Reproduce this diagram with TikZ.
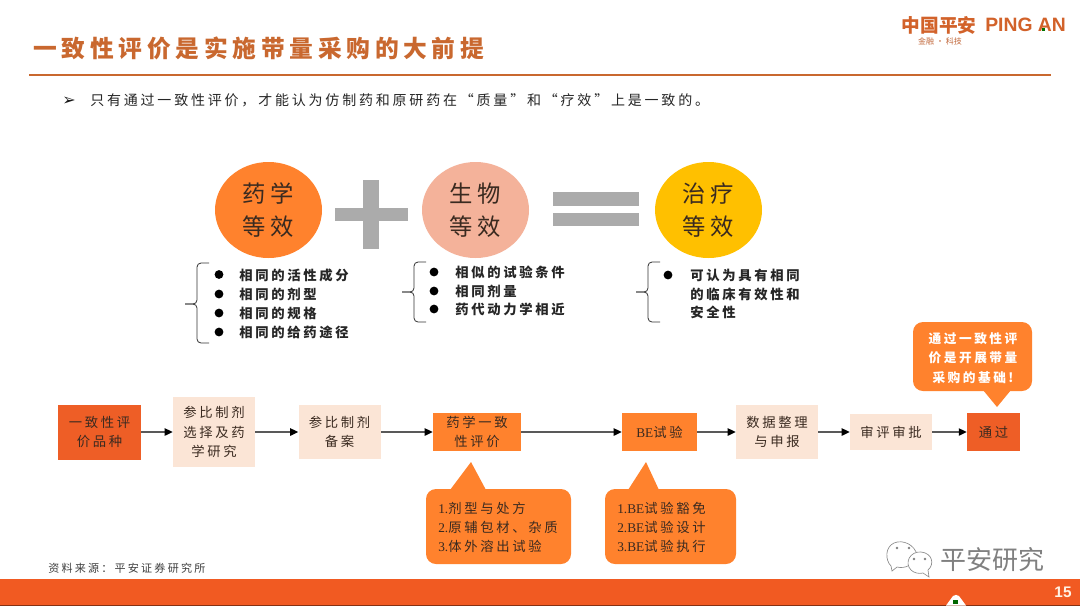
\documentclass[tikz,border=0pt]{standalone}
\usepackage{fontspec}
\usetikzlibrary{shapes.geometric,arrows.meta}
\setmainfont[LetterSpace=20]{Noto Sans CJK SC}
\newfontfamily\cjkplain{Noto Sans CJK SC}
\newfontfamily\serifl{Liberation Serif}
\newfontfamily\sansl{Liberation Sans}
\newfontfamily\symfont{DejaVu Sans}
\newcommand{\fsz}[2]{\fontsize{#1}{#2}\selectfont}
\newcommand{\lat}[1]{{\serifl #1}}
\definecolor{titleor}{HTML}{C9682F}
\definecolor{barred}{HTML}{F15A22}
\definecolor{boxred}{HTML}{EE5E26}
\definecolor{boxor}{HTML}{FF822D}
\definecolor{boxpale}{HTML}{FBE5D6}
\definecolor{circpink}{HTML}{F4B29A}
\definecolor{circgold}{HTML}{FFC000}
\definecolor{symgrey}{HTML}{ABABAB}
\definecolor{inkdark}{HTML}{3A2A20}
\definecolor{logoor}{HTML}{D2622A}
\tikzset{
  x=0.75pt,y=-0.75pt,
  bignode/.style={ellipse,inner sep=0pt,minimum width=80.25pt,minimum height=72pt,text=inkdark,align=center,font=\fsz{17.5}{24.8}},
  symbar/.style={fill=symgrey,draw=none},
  flowbox/.style={rectangle,inner sep=0pt,align=center,text=inkdark,font=\fsz{10}{14.4}},
  flowarrow/.style={draw=black!65,line width=1pt,-{Stealth[length=6pt,width=5.5pt,inset=0pt,color=black]}},
  bracepath/.style={draw=black!80,line width=0.6pt,rounded corners=3pt},
  bulletdot/.style={circle,fill=black,inner sep=0pt,minimum size=6.6pt},
  listtext/.style={anchor=west,inner sep=0pt,align=left,text=black!85,font=\fsz{10}{14.1}\bfseries},
  callfill/.style={fill=boxor,draw=none},
  calltext/.style={anchor=west,inner sep=0pt,align=left,text=inkdark,font=\fsz{10}{14.2}},
}
\begin{document}
\begin{tikzpicture}
\useasboundingbox (0,0) rectangle (1080,608);
\fill[white] (0,0) rectangle (1080,608);

% header
\node[anchor=west,inner sep=0pt,text=titleor,font=\fsz{17.8}{24}\bfseries] (title) at (33,48) {一致性评价是实施带量采购的大前提};
\draw[titleor,line width=2.2pt] (29,75) -- (1051,75);
\node[inner sep=0pt,text=logoor,font=\cjkplain\fsz{14}{16}\bfseries] (logocn) at (939,25) {中国平安};
\node[anchor=west,inner sep=0pt,text=logoor,font=\sansl\fsz{14.5}{16}\bfseries] (logoen) at (985,25) {PING AN};
\node[inner sep=0pt,text=logoor!80!gray,font=\cjkplain\fsz{6}{7}] (logosub) at (940,41.5) {金融 · 科技};
\fill[green!45!black] (1041.5,27.5) rectangle (1044.5,30.5);

\node[inner sep=0pt,text=black!90,font=\symfont\fsz{12}{14}] (arrowmark) at (69,101) {➢};
\node[anchor=west,inner sep=0pt,text=black!85,font=\fsz{10.5}{14}] (lead) at (90,100) {只有通过一致性评价，才能认为仿制药和原研药在“质量”和“疗效”上是一致的。};

% equation
\node[bignode,fill=boxor] (drug) at (268.5,210) {药学\\等效};
\node[bignode,fill=circpink] (bio) at (475.5,210) {生物\\等效};
\node[bignode,fill=circgold] (cure) at (708.5,210) {治疗\\等效};
\fill[symbar] (335,208) rectangle (408,221);
\fill[symbar] (363,180) rectangle (379,249);
\fill[symbar] (553,192) rectangle (639,206);
\fill[symbar] (553,213) rectangle (639,226);

% braces
\draw[bracepath] (209,263) -- (197,263) -- (197,304) -- (185,304);
\draw[bracepath] (185,304) -- (197,304) -- (197,343) -- (209,343);
\draw[bracepath] (426,262) -- (414,262) -- (414,292) -- (402,292);
\draw[bracepath] (402,292) -- (414,292) -- (414,322) -- (426,322);
\draw[bracepath] (660,262) -- (648,262) -- (648,292) -- (636,292);
\draw[bracepath] (636,292) -- (648,292) -- (648,322) -- (660,322);

% lists
\foreach \yy/\nm in {274.5/a,294/b,313/c,332/d}{\node[bulletdot] (dota\nm) at (219,\yy) {};}
\foreach \yy/\nm in {272/a,291/b,309/c}{\node[bulletdot] (dotb\nm) at (434,\yy) {};}
\node[bulletdot] (dotc) at (668,275) {};
\node[listtext] (list1) at (239,304) {相同的活性成分\\相同的剂型\\相同的规格\\相同的给药途径};
\node[listtext,font=\fsz{10}{13.9}\bfseries] (list2) at (455,291) {相似的试验条件\\相同剂量\\药代动力学相近};
\node[listtext] (list3) at (690,294) {可认为具有相同\\的临床有效性和\\安全性};

% process
\node[flowbox,fill=boxred,minimum width=62.25pt,minimum height=41.25pt] (p1) at (99.5,432) {一致性评\\价品种};
\node[flowbox,fill=boxpale,minimum width=61.5pt,minimum height=52.5pt] (p2) at (214,432) {参比制剂\\选择及药\\学研究};
\node[flowbox,fill=boxpale,minimum width=61.5pt,minimum height=40.5pt] (p3) at (339.5,432) {参比制剂\\备案};
\node[flowbox,fill=boxor,minimum width=66pt,minimum height=28.5pt] (p4) at (477,432) {药学一致\\性评价};
\node[flowbox,fill=boxor,minimum width=56.25pt,minimum height=28pt] (p5) at (659.5,432) {\lat{BE}试验};
\node[flowbox,fill=boxpale,minimum width=61.5pt,minimum height=40pt] (p6) at (777,432) {数据整理\\与申报};
\node[flowbox,fill=boxpale,minimum width=61.5pt,minimum height=27pt] (p7) at (891,432) {审评审批};
\node[flowbox,fill=boxred,minimum width=39.75pt,minimum height=28.5pt] (p8) at (993.5,432) {通过};
\foreach \aa/\bb in {p1/p2,p2/p3,p3/p4,p4/p5,p5/p6,p6/p7,p7/p8}{\draw[flowarrow] (\aa.east) -- (\bb.west);}

% callouts
\fill[callfill,rounded corners=7.5pt] (913,322) rectangle (1032,391);
\fill[callfill] (983,390) -- (997,407) -- (1011,390) -- cycle;
\node[inner sep=0pt,align=center,text=white,font=\fsz{9.5}{14.4}\bfseries] (note1) at (973,358) {通过一致性评\\价是开展带量\\采购的基础!};
\fill[callfill,rounded corners=7.5pt] (426,489) rectangle (571,564);
\fill[callfill] (450,490) -- (471,462) -- (486,490) -- cycle;
\node[calltext] (note2) at (438,527) {\lat{1.}剂型与处方\\\lat{2.}原辅包材、杂质\\\lat{3.}体外溶出试验};
\fill[callfill,rounded corners=7.5pt] (605,489) rectangle (736,564);
\fill[callfill] (628,490) -- (646,462) -- (659,490) -- cycle;
\node[calltext] (note3) at (617,527) {\lat{1.BE}试验豁免\\\lat{2.BE}试验设计\\\lat{3.BE}试验执行};

% footer
\node[anchor=west,inner sep=0pt,text=black!75,font=\fsz{8.3}{10}] (source) at (48,568) {资料来源：平安证券研究所};
\fill[barred] (0,579) rectangle (1080,605);
\draw[black!45!barred,line width=0.5pt] (0,605) -- (1080,605);
\fill[white] (946,605.5) -- (953,596) .. controls (955,594.5) and (957,594.5) .. (959,596) -- (966,605.5) -- cycle;
\fill[green!40!black] (953,600) rectangle (958,604);
\node[inner sep=0pt,text=white!90!orange,font=\sansl\fsz{11.5}{13}\bfseries] (pageno) at (1063,592) {15};

% watermark
\draw[black!45,fill=white,line width=0.5pt] (891,566) .. controls (885,560) and (885,547) .. (894,543) .. controls (903,539) and (915,545) .. (917,555) .. controls (914,565) and (905,569) .. (897,567) -- (892,571) -- cycle;
\draw[black!45,fill=white,line width=0.5pt] (911,570) .. controls (904,563) and (910,551) .. (921,552) .. controls (932,553) and (935,564) .. (928,570) -- (929,577) -- (923,573) .. controls (919,574) and (914,573) .. (911,570) -- cycle;
\foreach \cx/\cy in {897/548,909/548,914/559,925/559}{\fill[black!50] (\cx,\cy) circle (1pt);}
\node[inner sep=0pt,text=black!50,font=\cjkplain\fsz{19.5}{22}] (mark) at (992,560) {平安研究};
\end{tikzpicture}
\end{document}
